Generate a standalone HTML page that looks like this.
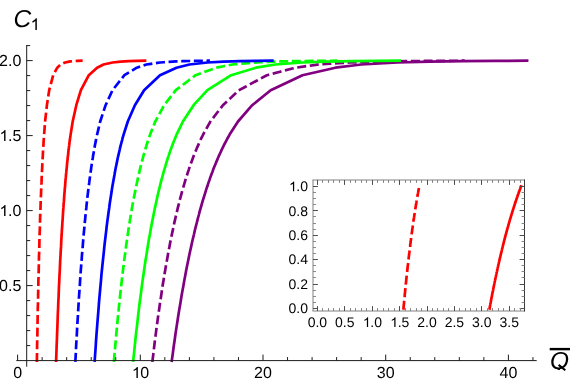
<!DOCTYPE html>
<html><head><meta charset="utf-8"><style>
html,body{margin:0;padding:0;background:#fff;}
body{width:570px;height:382px;overflow:hidden;position:relative;font-family:"Liberation Sans",sans-serif;}
</style></head><body>
<svg width="570" height="382" viewBox="0 0 570 382" style="position:absolute;left:0;top:0;will-change:transform">
<path d="M171.8,360.6 L172.8,353.5 L173.7,346.5 L174.7,339.7 L175.6,333.1 L176.6,326.6 L177.6,320.3 L178.5,314.2 L179.5,308.2 L180.5,302.4 L181.4,296.7 L182.4,291.1 L183.4,285.7 L184.3,280.4 L185.3,275.2 L186.2,270.2 L187.2,265.3 L188.2,260.5 L189.1,255.9 L190.1,251.3 L191.1,246.9 L192.0,242.5 L193.0,238.3 L194.0,234.2 L194.9,230.1 L195.9,226.2 L196.9,222.4 L197.8,218.6 L198.8,215.0 L199.7,211.4 L200.7,207.9 L201.7,204.5 L202.6,201.2 L203.6,198.0 L204.6,194.8 L205.5,191.8 L206.5,188.7 L207.5,185.8 L208.4,182.9 L209.4,180.2 L210.3,177.4 L211.3,174.8 L212.3,172.2 L213.2,169.6 L214.2,167.1 L215.2,164.7 L216.1,162.4 L217.1,160.1 L218.1,157.8 L219.0,155.6 L220.0,153.5 L221.0,151.4 L221.9,149.3 L222.9,147.3 L223.8,145.4 L224.8,143.5 L225.8,141.6 L226.7,139.8 L227.7,138.0 L228.7,136.3 L229.6,134.6 L238.0,121.5 L252.2,105.2 L270.7,90.2 L302.5,75.2 L335.4,67.7 L361.2,64.5 L397.5,62.5 L429.9,61.6 L462.3,61.1 L494.7,60.9 L527.1,60.7" fill="none" stroke="#800080" stroke-width="2.7" stroke-linejoin="round" stroke-linecap="square"/>
<path d="M152.5,360.6 L153.4,353.5 L154.2,346.5 L155.0,339.7 L155.9,333.1 L156.7,326.6 L157.6,320.3 L158.4,314.2 L159.3,308.2 L160.1,302.4 L161.0,296.7 L161.8,291.1 L162.6,285.7 L163.5,280.4 L164.3,275.2 L165.2,270.2 L166.0,265.3 L166.9,260.5 L167.7,255.9 L168.5,251.3 L169.4,246.9 L170.2,242.5 L171.1,238.3 L171.9,234.2 L172.8,230.1 L173.6,226.2 L174.4,222.4 L175.3,218.6 L176.1,215.0 L177.0,211.4 L177.8,207.9 L178.7,204.5 L179.5,201.2 L180.3,198.0 L181.2,194.8 L182.0,191.8 L182.9,188.7 L183.7,185.8 L184.6,182.9 L185.4,180.2 L186.3,177.4 L187.1,174.8 L187.9,172.2 L188.8,169.6 L189.6,167.1 L190.5,164.7 L191.3,162.4 L192.2,160.1 L193.0,157.8 L193.8,155.6 L194.7,153.5 L195.5,151.4 L196.4,149.3 L197.2,147.3 L198.1,145.4 L198.9,143.5 L199.7,141.6 L200.6,139.8 L201.4,138.0 L202.3,136.3 L203.1,134.6 L210.4,121.5 L222.9,105.2 L239.0,90.2 L266.9,75.2 L295.7,67.7 L318.2,64.5 L350.0,62.5 L378.3,61.6 L406.7,61.1 L435.0,60.9 L463.4,60.7" fill="none" stroke="#800080" stroke-width="2.7" stroke-linejoin="round" stroke-linecap="square" stroke-dasharray="6.33 6.33"/>
<path d="M133.2,360.6 L134.0,353.5 L134.7,346.5 L135.4,339.7 L136.1,333.1 L136.9,326.6 L137.6,320.3 L138.3,314.2 L139.0,308.2 L139.7,302.4 L140.5,296.7 L141.2,291.1 L141.9,285.7 L142.6,280.4 L143.4,275.2 L144.1,270.2 L144.8,265.3 L145.5,260.5 L146.3,255.9 L147.0,251.3 L147.7,246.9 L148.4,242.5 L149.1,238.3 L149.9,234.2 L150.6,230.1 L151.3,226.2 L152.0,222.4 L152.8,218.6 L153.5,215.0 L154.2,211.4 L154.9,207.9 L155.7,204.5 L156.4,201.2 L157.1,198.0 L157.8,194.8 L158.5,191.8 L159.3,188.7 L160.0,185.8 L160.7,182.9 L161.4,180.2 L162.2,177.4 L162.9,174.8 L163.6,172.2 L164.3,169.6 L165.1,167.1 L165.8,164.7 L166.5,162.4 L167.2,160.1 L167.9,157.8 L168.7,155.6 L169.4,153.5 L170.1,151.4 L170.8,149.3 L171.6,147.3 L172.3,145.4 L173.0,143.5 L173.7,141.6 L174.5,139.8 L175.2,138.0 L175.9,136.3 L176.6,134.6 L182.9,121.5 L193.6,105.2 L207.4,90.2 L231.2,75.2 L256.0,67.7 L275.3,64.5 L302.5,62.5 L326.8,61.6 L351.1,61.1 L375.4,60.9 L399.7,60.7" fill="none" stroke="#00ff00" stroke-width="2.7" stroke-linejoin="round" stroke-linecap="square"/>
<path d="M114.0,360.6 L114.6,353.5 L115.2,346.5 L115.8,339.7 L116.4,333.1 L117.0,326.6 L117.6,320.3 L118.2,314.2 L118.8,308.2 L119.4,302.4 L120.0,296.7 L120.6,291.1 L121.2,285.7 L121.8,280.4 L122.4,275.2 L123.0,270.2 L123.6,265.3 L124.2,260.5 L124.8,255.9 L125.4,251.3 L126.0,246.9 L126.6,242.5 L127.2,238.3 L127.8,234.2 L128.4,230.1 L129.0,226.2 L129.6,222.4 L130.2,218.6 L130.8,215.0 L131.4,211.4 L132.0,207.9 L132.6,204.5 L133.2,201.2 L133.8,198.0 L134.5,194.8 L135.1,191.8 L135.7,188.7 L136.3,185.8 L136.9,182.9 L137.5,180.2 L138.1,177.4 L138.7,174.8 L139.3,172.2 L139.9,169.6 L140.5,167.1 L141.1,164.7 L141.7,162.4 L142.3,160.1 L142.9,157.8 L143.5,155.6 L144.1,153.5 L144.7,151.4 L145.3,149.3 L145.9,147.3 L146.5,145.4 L147.1,143.5 L147.7,141.6 L148.3,139.8 L148.9,138.0 L149.5,136.3 L150.1,134.6 L155.3,121.5 L164.2,105.2 L175.8,90.2 L195.6,75.2 L216.3,67.7 L232.3,64.5 L255.0,62.5 L275.3,61.6 L295.5,61.1 L315.8,60.9 L336.0,60.7" fill="none" stroke="#00ff00" stroke-width="2.7" stroke-linejoin="round" stroke-linecap="square" stroke-dasharray="6.33 6.33"/>
<path d="M94.7,360.6 L95.2,353.5 L95.7,346.5 L96.1,339.7 L96.6,333.1 L97.1,326.6 L97.6,320.3 L98.1,314.2 L98.6,308.2 L99.0,302.4 L99.5,296.7 L100.0,291.1 L100.5,285.7 L101.0,280.4 L101.4,275.2 L101.9,270.2 L102.4,265.3 L102.9,260.5 L103.4,255.9 L103.9,251.3 L104.3,246.9 L104.8,242.5 L105.3,238.3 L105.8,234.2 L106.3,230.1 L106.7,226.2 L107.2,222.4 L107.7,218.6 L108.2,215.0 L108.7,211.4 L109.2,207.9 L109.6,204.5 L110.1,201.2 L110.6,198.0 L111.1,194.8 L111.6,191.8 L112.0,188.7 L112.5,185.8 L113.0,182.9 L113.5,180.2 L114.0,177.4 L114.5,174.8 L114.9,172.2 L115.4,169.6 L115.9,167.1 L116.4,164.7 L116.9,162.4 L117.3,160.1 L117.8,157.8 L118.3,155.6 L118.8,153.5 L119.3,151.4 L119.8,149.3 L120.2,147.3 L120.7,145.4 L121.2,143.5 L121.7,141.6 L122.2,139.8 L122.6,138.0 L123.1,136.3 L123.6,134.6 L127.8,121.5 L134.9,105.2 L144.1,90.2 L160.0,75.2 L176.5,67.7 L189.4,64.5 L207.5,62.5 L223.7,61.6 L239.9,61.1 L256.1,60.9 L272.3,60.7" fill="none" stroke="#0000ff" stroke-width="2.7" stroke-linejoin="round" stroke-linecap="square"/>
<path d="M75.4,360.6 L75.8,353.5 L76.1,346.5 L76.5,339.7 L76.9,333.1 L77.2,326.6 L77.6,320.3 L78.0,314.2 L78.3,308.2 L78.7,302.4 L79.0,296.7 L79.4,291.1 L79.8,285.7 L80.1,280.4 L80.5,275.2 L80.8,270.2 L81.2,265.3 L81.6,260.5 L81.9,255.9 L82.3,251.3 L82.7,246.9 L83.0,242.5 L83.4,238.3 L83.7,234.2 L84.1,230.1 L84.5,226.2 L84.8,222.4 L85.2,218.6 L85.5,215.0 L85.9,211.4 L86.3,207.9 L86.6,204.5 L87.0,201.2 L87.3,198.0 L87.7,194.8 L88.1,191.8 L88.4,188.7 L88.8,185.8 L89.2,182.9 L89.5,180.2 L89.9,177.4 L90.2,174.8 L90.6,172.2 L91.0,169.6 L91.3,167.1 L91.7,164.7 L92.0,162.4 L92.4,160.1 L92.8,157.8 L93.1,155.6 L93.5,153.5 L93.9,151.4 L94.2,149.3 L94.6,147.3 L94.9,145.4 L95.3,143.5 L95.7,141.6 L96.0,139.8 L96.4,138.0 L96.7,136.3 L97.1,134.6 L100.2,121.5 L105.6,105.2 L112.5,90.2 L124.4,75.2 L136.8,67.7 L146.4,64.5 L160.1,62.5 L172.2,61.6 L184.3,61.1 L196.5,60.9 L208.6,60.7" fill="none" stroke="#0000ff" stroke-width="2.7" stroke-linejoin="round" stroke-linecap="square" stroke-dasharray="6.33 6.33"/>
<path d="M56.1,360.6 L56.4,353.5 L56.6,346.5 L56.9,339.7 L57.1,333.1 L57.4,326.6 L57.6,320.3 L57.8,314.2 L58.1,308.2 L58.3,302.4 L58.6,296.7 L58.8,291.1 L59.0,285.7 L59.3,280.4 L59.5,275.2 L59.8,270.2 L60.0,265.3 L60.2,260.5 L60.5,255.9 L60.7,251.3 L61.0,246.9 L61.2,242.5 L61.4,238.3 L61.7,234.2 L61.9,230.1 L62.2,226.2 L62.4,222.4 L62.7,218.6 L62.9,215.0 L63.1,211.4 L63.4,207.9 L63.6,204.5 L63.9,201.2 L64.1,198.0 L64.3,194.8 L64.6,191.8 L64.8,188.7 L65.1,185.8 L65.3,182.9 L65.5,180.2 L65.8,177.4 L66.0,174.8 L66.3,172.2 L66.5,169.6 L66.8,167.1 L67.0,164.7 L67.2,162.4 L67.5,160.1 L67.7,157.8 L68.0,155.6 L68.2,153.5 L68.4,151.4 L68.7,149.3 L68.9,147.3 L69.2,145.4 L69.4,143.5 L69.6,141.6 L69.9,139.8 L70.1,138.0 L70.4,136.3 L70.6,134.6 L72.7,121.5 L76.3,105.2 L80.9,90.2 L88.8,75.2 L97.1,67.7 L103.5,64.5 L112.6,62.5 L120.7,61.6 L128.8,61.1 L136.9,60.9 L145.0,60.7" fill="none" stroke="#ff0000" stroke-width="2.7" stroke-linejoin="round" stroke-linecap="square"/>
<path d="M36.9,360.6 L37.0,353.5 L37.1,346.5 L37.2,339.7 L37.4,333.1 L37.5,326.6 L37.6,320.3 L37.7,314.2 L37.8,308.2 L38.0,302.4 L38.1,296.7 L38.2,291.1 L38.3,285.7 L38.4,280.4 L38.6,275.2 L38.7,270.2 L38.8,265.3 L38.9,260.5 L39.0,255.9 L39.2,251.3 L39.3,246.9 L39.4,242.5 L39.5,238.3 L39.6,234.2 L39.8,230.1 L39.9,226.2 L40.0,222.4 L40.1,218.6 L40.2,215.0 L40.4,211.4 L40.5,207.9 L40.6,204.5 L40.7,201.2 L40.8,198.0 L41.0,194.8 L41.1,191.8 L41.2,188.7 L41.3,185.8 L41.5,182.9 L41.6,180.2 L41.7,177.4 L41.8,174.8 L41.9,172.2 L42.1,169.6 L42.2,167.1 L42.3,164.7 L42.4,162.4 L42.5,160.1 L42.7,157.8 L42.8,155.6 L42.9,153.5 L43.0,151.4 L43.1,149.3 L43.3,147.3 L43.4,145.4 L43.5,143.5 L43.6,141.6 L43.7,139.8 L43.9,138.0 L44.0,136.3 L44.1,134.6 L45.1,121.5 L46.9,105.2 L49.2,90.2 L53.2,75.2 L57.3,67.7 L60.5,64.5 L65.1,62.5 L69.1,61.6 L73.2,61.1 L77.2,60.9 L81.3,60.7" fill="none" stroke="#ff0000" stroke-width="2.7" stroke-linejoin="round" stroke-linecap="square" stroke-dasharray="6.33 6.33"/>
<g stroke="#1c1c1c" stroke-width="1" fill="none">
<line x1="16.3" y1="360.6" x2="536.7" y2="360.6"/>
<line x1="26.7" y1="45" x2="26.7" y2="366.7"/>
<line x1="17.60" y1="360.6" x2="17.60" y2="354.6"/>
<line x1="42.14" y1="360.6" x2="42.14" y2="357.1"/>
<line x1="66.68" y1="360.6" x2="66.68" y2="357.1"/>
<line x1="91.22" y1="360.6" x2="91.22" y2="357.1"/>
<line x1="115.76" y1="360.6" x2="115.76" y2="357.1"/>
<line x1="140.30" y1="360.6" x2="140.30" y2="354.6"/>
<line x1="164.84" y1="360.6" x2="164.84" y2="357.1"/>
<line x1="189.38" y1="360.6" x2="189.38" y2="357.1"/>
<line x1="213.92" y1="360.6" x2="213.92" y2="357.1"/>
<line x1="238.46" y1="360.6" x2="238.46" y2="357.1"/>
<line x1="263.00" y1="360.6" x2="263.00" y2="354.6"/>
<line x1="287.54" y1="360.6" x2="287.54" y2="357.1"/>
<line x1="312.08" y1="360.6" x2="312.08" y2="357.1"/>
<line x1="336.62" y1="360.6" x2="336.62" y2="357.1"/>
<line x1="361.16" y1="360.6" x2="361.16" y2="357.1"/>
<line x1="385.70" y1="360.6" x2="385.70" y2="354.6"/>
<line x1="410.24" y1="360.6" x2="410.24" y2="357.1"/>
<line x1="434.78" y1="360.6" x2="434.78" y2="357.1"/>
<line x1="459.32" y1="360.6" x2="459.32" y2="357.1"/>
<line x1="483.86" y1="360.6" x2="483.86" y2="357.1"/>
<line x1="508.40" y1="360.6" x2="508.40" y2="354.6"/>
<line x1="532.94" y1="360.6" x2="532.94" y2="357.1"/>
<line x1="26.7" y1="345.60" x2="30.2" y2="345.60"/>
<line x1="26.7" y1="330.60" x2="30.2" y2="330.60"/>
<line x1="26.7" y1="315.60" x2="30.2" y2="315.60"/>
<line x1="26.7" y1="300.60" x2="30.2" y2="300.60"/>
<line x1="26.7" y1="285.60" x2="32.7" y2="285.60"/>
<line x1="26.7" y1="270.60" x2="30.2" y2="270.60"/>
<line x1="26.7" y1="255.60" x2="30.2" y2="255.60"/>
<line x1="26.7" y1="240.60" x2="30.2" y2="240.60"/>
<line x1="26.7" y1="225.60" x2="30.2" y2="225.60"/>
<line x1="26.7" y1="210.60" x2="32.7" y2="210.60"/>
<line x1="26.7" y1="195.60" x2="30.2" y2="195.60"/>
<line x1="26.7" y1="180.60" x2="30.2" y2="180.60"/>
<line x1="26.7" y1="165.60" x2="30.2" y2="165.60"/>
<line x1="26.7" y1="150.60" x2="30.2" y2="150.60"/>
<line x1="26.7" y1="135.60" x2="32.7" y2="135.60"/>
<line x1="26.7" y1="120.60" x2="30.2" y2="120.60"/>
<line x1="26.7" y1="105.60" x2="30.2" y2="105.60"/>
<line x1="26.7" y1="90.60" x2="30.2" y2="90.60"/>
<line x1="26.7" y1="75.60" x2="30.2" y2="75.60"/>
<line x1="26.7" y1="60.60" x2="32.7" y2="60.60"/>
<line x1="26.7" y1="45.60" x2="30.2" y2="45.60"/>
</g>
<rect x="313.0" y="180.0" width="211.5" height="131.0" fill="#fff" stroke="none"/>
<clipPath id="ic"><rect x="313.0" y="180.0" width="211.5" height="131.0"/></clipPath>
<g clip-path="url(#ic)">
<path d="M489.6,308.4 L489.7,307.5 L489.9,306.7 L490.0,305.8 L490.2,305.0 L490.3,304.1 L490.5,303.3 L490.7,302.5 L490.8,301.6 L491.0,300.8 L491.1,300.0 L491.3,299.1 L491.4,298.3 L491.6,297.5 L491.8,296.7 L491.9,295.9 L492.1,295.1 L492.2,294.2 L492.4,293.4 L492.5,292.6 L492.7,291.8 L492.9,291.0 L493.0,290.3 L493.2,289.5 L493.3,288.7 L493.5,287.9 L493.6,287.1 L493.8,286.3 L494.0,285.6 L494.1,284.8 L494.3,284.0 L494.4,283.2 L494.6,282.5 L494.7,281.7 L494.9,281.0 L495.1,280.2 L495.2,279.4 L495.4,278.7 L495.5,277.9 L495.7,277.2 L495.9,276.5 L496.0,275.7 L496.2,275.0 L496.3,274.2 L496.5,273.5 L496.6,272.8 L496.8,272.1 L497.0,271.3 L497.1,270.6 L497.3,269.9 L497.4,269.2 L497.6,268.5 L497.7,267.8 L497.9,267.0 L498.1,266.3 L498.2,265.6 L498.4,264.9 L498.5,264.2 L498.7,263.5 L498.8,262.9 L499.0,262.2 L499.2,261.5 L499.3,260.8 L499.5,260.1 L499.6,259.4 L499.8,258.7 L499.9,258.1 L500.1,257.4 L500.3,256.7 L500.4,256.1 L500.6,255.4 L500.7,254.7 L500.9,254.1 L501.0,253.4 L501.2,252.8 L501.4,252.1 L501.5,251.5 L501.7,250.8 L501.8,250.2 L502.0,249.5 L502.1,248.9 L502.3,248.2 L502.5,247.6 L502.6,247.0 L502.8,246.3 L502.9,245.7 L503.1,245.1 L503.2,244.4 L503.4,243.8 L503.6,243.2 L503.7,242.6 L503.9,242.0 L504.0,241.3 L504.2,240.7 L504.3,240.1 L504.5,239.5 L504.7,238.9 L504.8,238.3 L505.0,237.7 L505.1,237.1 L505.3,236.5 L505.4,235.9 L505.6,235.3 L505.8,234.7 L505.9,234.1 L506.1,233.6 L506.2,233.0 L506.4,232.4 L506.5,231.8 L506.7,231.2 L506.9,230.7 L507.0,230.1 L507.2,229.5 L507.3,228.9 L507.5,228.4 L507.6,227.8 L507.8,227.3 L508.0,226.7 L508.1,226.1 L508.3,225.6 L508.4,225.0 L508.6,224.5 L508.7,223.9 L508.9,223.4 L509.1,222.8 L509.2,222.3 L509.4,221.7 L509.5,221.2 L509.7,220.6 L509.8,220.1 L510.0,219.6 L510.2,219.0 L510.3,218.5 L510.5,218.0 L510.6,217.5 L510.8,216.9 L511.0,216.4 L511.1,215.9 L511.3,215.4 L511.4,214.8 L511.6,214.3 L511.7,213.8 L511.9,213.3 L512.1,212.8 L512.2,212.3 L512.4,211.8 L512.5,211.3 L512.7,210.8 L512.8,210.3 L513.0,209.8 L513.2,209.3 L513.3,208.8 L513.5,208.3 L513.6,207.8 L513.8,207.3 L513.9,206.8 L514.1,206.3 L514.3,205.8 L514.4,205.3 L514.6,204.9 L514.7,204.4 L514.9,203.9 L515.0,203.4 L515.2,202.9 L515.4,202.5 L515.5,202.0 L515.7,201.5 L515.8,201.1 L516.0,200.6 L516.1,200.1 L516.3,199.7 L516.5,199.2 L516.6,198.7 L516.8,198.3 L516.9,197.8 L517.1,197.4 L517.2,196.9 L517.4,196.5 L517.6,196.0 L517.7,195.6 L517.9,195.1 L518.0,194.7 L518.2,194.2 L518.3,193.8 L518.5,193.3 L518.7,192.9 L518.8,192.5 L519.0,192.0 L519.1,191.6 L519.3,191.2 L519.4,190.7 L519.6,190.3 L519.8,189.9 L519.9,189.4 L520.1,189.0 L520.2,188.6 L520.4,188.2 L520.5,187.8 L520.7,187.3 L520.9,186.9 L521.0,186.5" fill="none" stroke="#ff0000" stroke-width="2.7" stroke-linecap="square"/>
<path d="M403.5,308.4 L403.6,307.5 L403.6,306.7 L403.7,305.8 L403.8,305.0 L403.9,304.1 L404.0,303.3 L404.0,302.5 L404.1,301.6 L404.2,300.8 L404.3,300.0 L404.3,299.1 L404.4,298.3 L404.5,297.5 L404.6,296.7 L404.7,295.9 L404.7,295.1 L404.8,294.2 L404.9,293.4 L405.0,292.6 L405.1,291.8 L405.1,291.0 L405.2,290.3 L405.3,289.5 L405.4,288.7 L405.4,287.9 L405.5,287.1 L405.6,286.3 L405.7,285.6 L405.8,284.8 L405.8,284.0 L405.9,283.2 L406.0,282.5 L406.1,281.7 L406.2,281.0 L406.2,280.2 L406.3,279.4 L406.4,278.7 L406.5,277.9 L406.5,277.2 L406.6,276.5 L406.7,275.7 L406.8,275.0 L406.9,274.2 L406.9,273.5 L407.0,272.8 L407.1,272.1 L407.2,271.3 L407.3,270.6 L407.3,269.9 L407.4,269.2 L407.5,268.5 L407.6,267.8 L407.6,267.0 L407.7,266.3 L407.8,265.6 L407.9,264.9 L408.0,264.2 L408.0,263.5 L408.1,262.9 L408.2,262.2 L408.3,261.5 L408.4,260.8 L408.4,260.1 L408.5,259.4 L408.6,258.7 L408.7,258.1 L408.7,257.4 L408.8,256.7 L408.9,256.1 L409.0,255.4 L409.1,254.7 L409.1,254.1 L409.2,253.4 L409.3,252.8 L409.4,252.1 L409.5,251.5 L409.5,250.8 L409.6,250.2 L409.7,249.5 L409.8,248.9 L409.8,248.2 L409.9,247.6 L410.0,247.0 L410.1,246.3 L410.2,245.7 L410.2,245.1 L410.3,244.4 L410.4,243.8 L410.5,243.2 L410.6,242.6 L410.6,242.0 L410.7,241.3 L410.8,240.7 L410.9,240.1 L411.0,239.5 L411.0,238.9 L411.1,238.3 L411.2,237.7 L411.3,237.1 L411.3,236.5 L411.4,235.9 L411.5,235.3 L411.6,234.7 L411.7,234.1 L411.7,233.6 L411.8,233.0 L411.9,232.4 L412.0,231.8 L412.1,231.2 L412.1,230.7 L412.2,230.1 L412.3,229.5 L412.4,228.9 L412.4,228.4 L412.5,227.8 L412.6,227.3 L412.7,226.7 L412.8,226.1 L412.8,225.6 L412.9,225.0 L413.0,224.5 L413.1,223.9 L413.2,223.4 L413.2,222.8 L413.3,222.3 L413.4,221.7 L413.5,221.2 L413.5,220.6 L413.6,220.1 L413.7,219.6 L413.8,219.0 L413.9,218.5 L413.9,218.0 L414.0,217.5 L414.1,216.9 L414.2,216.4 L414.3,215.9 L414.3,215.4 L414.4,214.8 L414.5,214.3 L414.6,213.8 L414.6,213.3 L414.7,212.8 L414.8,212.3 L414.9,211.8 L415.0,211.3 L415.0,210.8 L415.1,210.3 L415.2,209.8 L415.3,209.3 L415.4,208.8 L415.4,208.3 L415.5,207.8 L415.6,207.3 L415.7,206.8 L415.7,206.3 L415.8,205.8 L415.9,205.3 L416.0,204.9 L416.1,204.4 L416.1,203.9 L416.2,203.4 L416.3,202.9 L416.4,202.5 L416.5,202.0 L416.5,201.5 L416.6,201.1 L416.7,200.6 L416.8,200.1 L416.8,199.7 L416.9,199.2 L417.0,198.7 L417.1,198.3 L417.2,197.8 L417.2,197.4 L417.3,196.9 L417.4,196.5 L417.5,196.0 L417.6,195.6 L417.6,195.1 L417.7,194.7 L417.8,194.2 L417.9,193.8 L418.0,193.3 L418.0,192.9 L418.1,192.5 L418.2,192.0 L418.3,191.6 L418.3,191.2 L418.4,190.7 L418.5,190.3 L418.6,189.9 L418.7,189.4 L418.7,189.0 L418.8,188.6 L418.9,188.2 L419.0,187.8 L419.1,187.3 L419.1,186.9 L419.2,186.5" fill="none" stroke="#ff0000" stroke-width="2.7" stroke-linecap="square" stroke-dasharray="6.33 6.33"/>
</g>
<g stroke="#808080" stroke-width="1" fill="none">
<line x1="312.5" y1="180.0" x2="525.0" y2="180.0"/>
<line x1="312.5" y1="311.0" x2="525.0" y2="311.0"/>
<line x1="313.0" y1="180.0" x2="313.0" y2="311.0"/>
<line x1="524.5" y1="179.5" x2="524.5" y2="311.5" stroke="#3a3a3a"/>
</g>
<path d="M317.5,311.0V306.1M317.5,180.0V184.9M344.5,311.0V306.1M344.5,180.0V184.9M372.5,311.0V306.1M372.5,180.0V184.9M399.5,311.0V306.1M399.5,180.0V184.9M427.5,311.0V306.1M427.5,180.0V184.9M454.5,311.0V306.1M454.5,180.0V184.9M481.5,311.0V306.1M481.5,180.0V184.9M509.5,311.0V306.1M509.5,180.0V184.9M313.0,308.5H317.9M524.5,308.5H519.6M313.0,284.5H317.9M524.5,284.5H519.6M313.0,259.5H317.9M524.5,259.5H519.6M313.0,235.5H317.9M524.5,235.5H519.6M313.0,210.5H317.9M524.5,210.5H519.6M313.0,186.5H317.9M524.5,186.5H519.6" stroke="#4d4d4d" stroke-width="1" fill="none"/>
<path d="M322.5,311.0V308.1M322.5,180.0V182.9M328.5,311.0V308.1M328.5,180.0V182.9M333.5,311.0V308.1M333.5,180.0V182.9M339.5,311.0V308.1M339.5,180.0V182.9M350.5,311.0V308.1M350.5,180.0V182.9M355.5,311.0V308.1M355.5,180.0V182.9M361.5,311.0V308.1M361.5,180.0V182.9M366.5,311.0V308.1M366.5,180.0V182.9M377.5,311.0V308.1M377.5,180.0V182.9M383.5,311.0V308.1M383.5,180.0V182.9M388.5,311.0V308.1M388.5,180.0V182.9M394.5,311.0V308.1M394.5,180.0V182.9M405.5,311.0V308.1M405.5,180.0V182.9M410.5,311.0V308.1M410.5,180.0V182.9M416.5,311.0V308.1M416.5,180.0V182.9M421.5,311.0V308.1M421.5,180.0V182.9M432.5,311.0V308.1M432.5,180.0V182.9M437.5,311.0V308.1M437.5,180.0V182.9M443.5,311.0V308.1M443.5,180.0V182.9M448.5,311.0V308.1M448.5,180.0V182.9M459.5,311.0V308.1M459.5,180.0V182.9M465.5,311.0V308.1M465.5,180.0V182.9M470.5,311.0V308.1M470.5,180.0V182.9M476.5,311.0V308.1M476.5,180.0V182.9M487.5,311.0V308.1M487.5,180.0V182.9M492.5,311.0V308.1M492.5,180.0V182.9M498.5,311.0V308.1M498.5,180.0V182.9M503.5,311.0V308.1M503.5,180.0V182.9M514.5,311.0V308.1M514.5,180.0V182.9M520.5,311.0V308.1M520.5,180.0V182.9M313.0,302.5H315.9M524.5,302.5H521.6M313.0,296.5H315.9M524.5,296.5H521.6M313.0,290.5H315.9M524.5,290.5H521.6M313.0,277.5H315.9M524.5,277.5H521.6M313.0,271.5H315.9M524.5,271.5H521.6M313.0,265.5H315.9M524.5,265.5H521.6M313.0,253.5H315.9M524.5,253.5H521.6M313.0,247.5H315.9M524.5,247.5H521.6M313.0,241.5H315.9M524.5,241.5H521.6M313.0,229.5H315.9M524.5,229.5H521.6M313.0,223.5H315.9M524.5,223.5H521.6M313.0,216.5H315.9M524.5,216.5H521.6M313.0,204.5H315.9M524.5,204.5H521.6M313.0,198.5H315.9M524.5,198.5H521.6M313.0,192.5H315.9M524.5,192.5H521.6" stroke="#858585" stroke-width="1" fill="none"/>
<g style="font-family:'Liberation Sans',sans-serif" fill="#000" text-rendering="geometricPrecision">
<text x="13.15" y="378.00" font-size="16">0</text>
<path transform="translate(131.88,378.00) scale(0.00781,-0.00748)" d="M763 0H583V1147Q518 1085 412.5 1023Q307 961 223 930V1104Q374 1175 487 1276Q600 1377 647 1472H763Z"/><text x="140.30" y="378.00" font-size="16">0</text>
<text x="254.10" y="378.00" font-size="16">20</text>
<text x="376.80" y="378.00" font-size="16">30</text>
<text x="499.50" y="378.00" font-size="16">40</text>
<text x="-0.94" y="291.10" font-size="16">0.5</text>
<path transform="translate(-0.46,216.10) scale(0.00781,-0.00748)" d="M763 0H583V1147Q518 1085 412.5 1023Q307 961 223 930V1104Q374 1175 487 1276Q600 1377 647 1472H763Z"/><text x="7.96" y="216.10" font-size="16">.0</text>
<path transform="translate(-0.46,141.10) scale(0.00781,-0.00748)" d="M763 0H583V1147Q518 1085 412.5 1023Q307 961 223 930V1104Q374 1175 487 1276Q600 1377 647 1472H763Z"/><text x="7.96" y="141.10" font-size="16">.5</text>
<text x="-0.94" y="66.10" font-size="16">2.0</text>
<text x="307.67" y="327.00" font-size="14">0.0</text>
<text x="335.07" y="327.00" font-size="14">0.5</text>
<path transform="translate(362.89,327.00) scale(0.00684,-0.00654)" d="M763 0H583V1147Q518 1085 412.5 1023Q307 961 223 930V1104Q374 1175 487 1276Q600 1377 647 1472H763Z"/><text x="370.25" y="327.00" font-size="14">.0</text>
<path transform="translate(390.29,327.00) scale(0.00684,-0.00654)" d="M763 0H583V1147Q518 1085 412.5 1023Q307 961 223 930V1104Q374 1175 487 1276Q600 1377 647 1472H763Z"/><text x="397.65" y="327.00" font-size="14">.5</text>
<text x="417.27" y="327.00" font-size="14">2.0</text>
<text x="444.67" y="327.00" font-size="14">2.5</text>
<text x="472.07" y="327.00" font-size="14">3.0</text>
<text x="499.47" y="327.00" font-size="14">3.5</text>
<text x="288.54" y="313.10" font-size="14">0.0</text>
<text x="288.54" y="288.72" font-size="14">0.2</text>
<text x="288.54" y="264.34" font-size="14">0.4</text>
<text x="288.54" y="239.96" font-size="14">0.6</text>
<text x="288.54" y="215.58" font-size="14">0.8</text>
<path transform="translate(288.96,191.20) scale(0.00684,-0.00654)" d="M763 0H583V1147Q518 1085 412.5 1023Q307 961 223 930V1104Q374 1175 487 1276Q600 1377 647 1472H763Z"/><text x="296.32" y="191.20" font-size="14">.0</text>
<text x="13.5" y="26.5" font-size="24.5" font-style="italic">C</text>
<path transform="translate(30.51,30.00) scale(0.00830,-0.00794)" d="M763 0H583V1147Q518 1085 412.5 1023Q307 961 223 930V1104Q374 1175 487 1276Q600 1377 647 1472H763Z"/>
<clipPath id="qc"><rect x="540" y="340" width="30" height="29.9"/></clipPath><text x="550.1" y="369.4" font-size="24.5" font-style="italic" clip-path="url(#qc)">Q</text><line x1="558.6" y1="364.9" x2="565.3" y2="370.3" stroke="#000" stroke-width="2"/>
</g>
<rect x="549.7" y="347.9" width="21" height="2.4" fill="#000"/>
</svg>
</body></html>
